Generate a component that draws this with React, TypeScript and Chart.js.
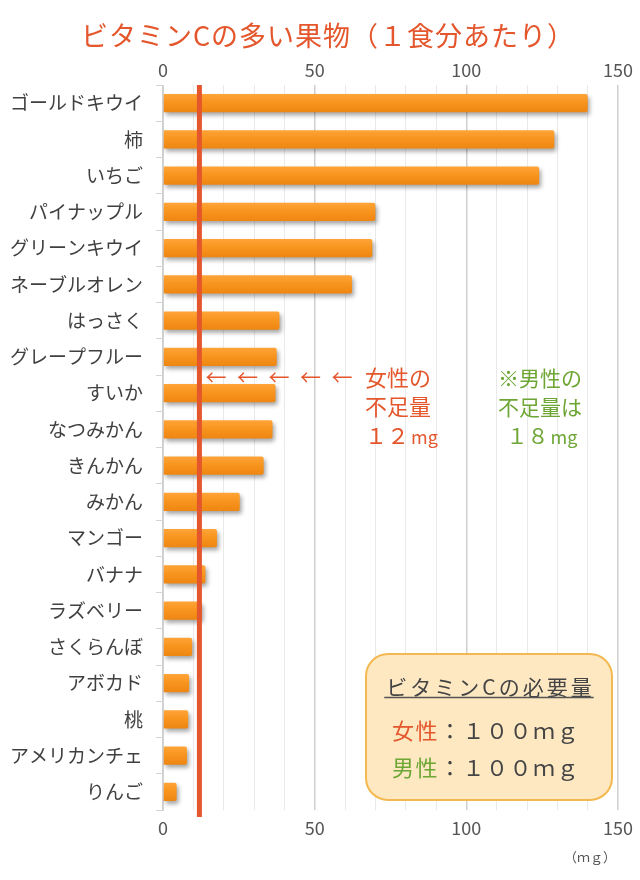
import React, { useEffect, useRef } from "react";
import { Chart, registerables } from "chart.js";

Chart.register(...registerables);

const TITLE = "ビタミンCの多い果物（１食分あたり）";
const fruits = [
  "ゴールドキウイ",
  "柿",
  "いちご",
  "パイナップル",
  "グリーンキウイ",
  "ネーブルオレン",
  "はっさく",
  "グレープフルー",
  "すいか",
  "なつみかん",
  "きんかん",
  "みかん",
  "マンゴー",
  "バナナ",
  "ラズベリー",
  "さくらんぼ",
  "アボカド",
  "桃",
  "アメリカンチェ",
  "りんご",
];
const vitaminC = [140, 129, 124, 70, 69, 62.3, 38.4, 37.5, 37.1, 36.1, 33.2, 25.3, 17.8, 14, 12.7, 9.6, 8.6, 8.3, 7.9, 4.5];
const axisMin = 0;
const axisMax = 150;
const axisTicks = [0, 50, 100, 150];
const gridStep = 10;
const femaleShortfall = 12;
const femaleNote = ["女性の", "不足量"];
const femaleNoteAmount = ["１２", "mg"];
const maleNote = ["※男性の", "不足量は"];
const maleNoteAmount = ["１８", "mg"];
const boxTitle = "ビタミンCの必要量";
const reqLabels = ["女性", "男性"];
const reqValues = ["：１００ｍｇ", "：１００ｍｇ"];
const unitLabel = "（ｍｇ）";

const RED = "#E4562C";
const GREEN = "#6DA634";
const TEXT = "#444444";
const FONT = "'Noto Sans CJK JP', 'Noto Sans', sans-serif";

const overlayPlugin = {
  id: "overlay",
  beforeDatasetsDraw(chart: any) {
    const ctx = chart.ctx;
    ctx.save();
    ctx.shadowColor = "rgba(0,0,0,0.35)";
    ctx.shadowBlur = 4;
    ctx.shadowOffsetX = 2;
    ctx.shadowOffsetY = 3;
  },
  afterDatasetsDraw(chart: any) {
    const ctx = chart.ctx;
    ctx.restore();
    const area = chart.chartArea;
    const xs = chart.scales.x;
    const lx = xs.getPixelForValue(femaleShortfall);

    // title
    ctx.save();
    ctx.font = `27px ${FONT}`;
    (ctx as any).letterSpacing = "1px";
    ctx.fillStyle = RED;
    ctx.textAlign = "center";
    ctx.textBaseline = "middle";
    ctx.fillText(TITLE, chart.width / 2 + 8, 36);
    (ctx as any).letterSpacing = "0px";
    ctx.restore();

    // shortfall line
    ctx.save();
    ctx.strokeStyle = RED;
    ctx.lineWidth = 5;
    ctx.beginPath();
    ctx.moveTo(lx, area.top);
    ctx.lineTo(lx, area.bottom + 7);
    ctx.stroke();
    ctx.restore();

    // arrows + female note
    ctx.save();
    ctx.fillStyle = RED;
    ctx.textBaseline = "middle";
    ctx.textAlign = "left";
    ctx.font = `21px ${FONT}`;
    for (let i = 0; i < 5; i++) {
      ctx.fillText("←", lx + 6 + i * 31.5, 377);
    }
    const nx = 365;
    ctx.font = `22px ${FONT}`;
    femaleNote.forEach((t, i) => ctx.fillText(t, nx, 378 + i * 29));
    ctx.fillText(femaleNoteAmount[0], nx, 436);
    const w1 = ctx.measureText(femaleNoteAmount[0]).width;
    ctx.font = `18px ${FONT}`;
    ctx.fillText(femaleNoteAmount[1], nx + w1 + 2, 437);
    ctx.restore();

    // male note
    ctx.save();
    ctx.fillStyle = GREEN;
    ctx.textBaseline = "middle";
    ctx.textAlign = "center";
    ctx.font = `21px ${FONT}`;
    maleNote.forEach((t, i) => ctx.fillText(t, 540, 378 + i * 29));
    ctx.font = `21px ${FONT}`;
    const a = ctx.measureText(maleNoteAmount[0]).width;
    ctx.font = `18px ${FONT}`;
    const b = ctx.measureText(maleNoteAmount[1]).width;
    const sx = 542 - (a + b + 2) / 2;
    ctx.textAlign = "left";
    ctx.font = `21px ${FONT}`;
    ctx.fillText(maleNoteAmount[0], sx, 436);
    ctx.font = `18px ${FONT}`;
    ctx.fillText(maleNoteAmount[1], sx + a + 2, 437);
    ctx.restore();

    // requirement box
    ctx.save();
    const bx = 366, by = 654, bw = 246, bh = 146, r = 22;
    ctx.beginPath();
    ctx.roundRect(bx, by, bw, bh, r);
    ctx.fillStyle = "#FDE8C2";
    ctx.fill();
    ctx.lineWidth = 2;
    ctx.strokeStyle = "#F4B850";
    ctx.stroke();

    ctx.fillStyle = TEXT;
    ctx.textBaseline = "middle";
    ctx.textAlign = "left";
    ctx.font = `21px ${FONT}`;
    (ctx as any).letterSpacing = "3px";
    const tw = ctx.measureText(boxTitle).width - 3;
    const tx = bx + bw / 2 - tw / 2;
    ctx.fillText(boxTitle, tx, 687);
    ctx.strokeStyle = "#555";
    ctx.lineWidth = 1.5;
    ctx.beginPath();
    ctx.moveTo(tx - 2, 697.5);
    ctx.lineTo(tx + tw + 2, 697.5);
    ctx.stroke();

    ctx.font = `22px ${FONT}`;
    (ctx as any).letterSpacing = "1.5px";
    const colors = [RED, GREEN];
    reqLabels.forEach((lab, i) => {
      const y = 731 + i * 37;
      ctx.fillStyle = colors[i];
      ctx.fillText(lab, 392, y);
      const lw = ctx.measureText(lab).width;
      ctx.fillStyle = TEXT;
      ctx.fillText(reqValues[i], 392 + lw, y);
    });
    (ctx as any).letterSpacing = "0px";
    ctx.restore();

    // unit
    ctx.save();
    ctx.fillStyle = "#555";
    ctx.font = `13px ${FONT}`;
    ctx.textAlign = "center";
    ctx.textBaseline = "middle";
    ctx.fillText(unitLabel, 590, 857);
    ctx.restore();
  },
};

export default function App() {
  const ref = useRef<HTMLCanvasElement | null>(null);

  useEffect(() => {
    if (!ref.current) return;
    const tickCb = (v: any) => (axisTicks.includes(Number(v)) ? String(v) : "");
    const chart = new Chart(ref.current, {
      type: "bar",
      data: {
        labels: fruits,
        datasets: [
          {
            data: vitaminC,
            backgroundColor: (c: any) => {
              const ch = c.chart;
              const ys = ch.scales && ch.scales.y;
              if (!ch.chartArea || !ys || c.dataIndex === undefined) return "#F7921E";
              const yc = ys.getPixelForValue(c.dataIndex);
              const g = ch.ctx.createLinearGradient(0, yc - 9, 0, yc + 9);
              g.addColorStop(0, "#FFA438");
              g.addColorStop(0.45, "#F8951F");
              g.addColorStop(1, "#EE8612");
              return g;
            },
            borderWidth: 0,
            borderRadius: 2,
            borderSkipped: "start",
            barPercentage: 0.5,
            categoryPercentage: 1,
          },
        ],
      },
      options: {
        indexAxis: "y",
        responsive: false,
        animation: false,
        layout: { padding: { left: 0, right: 20, top: 0, bottom: 0 } },
        plugins: {
          legend: { display: false },
          tooltip: { enabled: false },
          title: { display: false },
        },
        scales: {
          x: {
            type: "linear",
            position: "bottom",
            min: axisMin,
            max: axisMax,
            afterFit: (s: any) => {
              s.height = 70;
            },
            ticks: {
              stepSize: gridStep,
              autoSkip: false,
              maxRotation: 0,
              padding: 7,
              color: "#555",
              font: { family: FONT, size: 18 },
              callback: tickCb,
            },
            grid: {
              drawTicks: false,
              color: (c: any) => (c.tick && c.tick.value % 50 === 0 ? "#cfcfcf" : "#e9e9e9"),
              lineWidth: (c: any) => (c.tick && c.tick.value % 50 === 0 ? 1.5 : 1),
            },
            border: { display: false },
          },
          x2: {
            type: "linear",
            position: "top",
            min: axisMin,
            max: axisMax,
            afterFit: (s: any) => {
              s.height = 85;
            },
            ticks: {
              stepSize: gridStep,
              autoSkip: false,
              maxRotation: 0,
              padding: 4,
              color: "#555",
              font: { family: FONT, size: 18 },
              callback: tickCb,
            },
            grid: { display: false, drawTicks: false },
            border: { display: false },
          },
          y: {
            type: "category",
            afterFit: (s: any) => {
              s.width = 163;
            },
            ticks: {
              padding: 13,
              color: "#404040",
              font: { family: FONT, size: 19 },
              autoSkip: false,
            },
            grid: {
              drawOnChartArea: false,
              drawTicks: true,
              tickLength: 7,
              color: "#d4d4d4",
              offset: true,
            },
            border: { display: true, color: "#d4d4d4" },
          },
        },
      },
      plugins: [overlayPlugin],
    } as any);
    return () => chart.destroy();
  }, []);

  return (
    <div style={{ position: "absolute", left: 0, top: 0, width: 640, height: 880, background: "#fff" }}>
      <canvas ref={ref} width={640} height={880} style={{ display: "block" }} />
    </div>
  );
}
